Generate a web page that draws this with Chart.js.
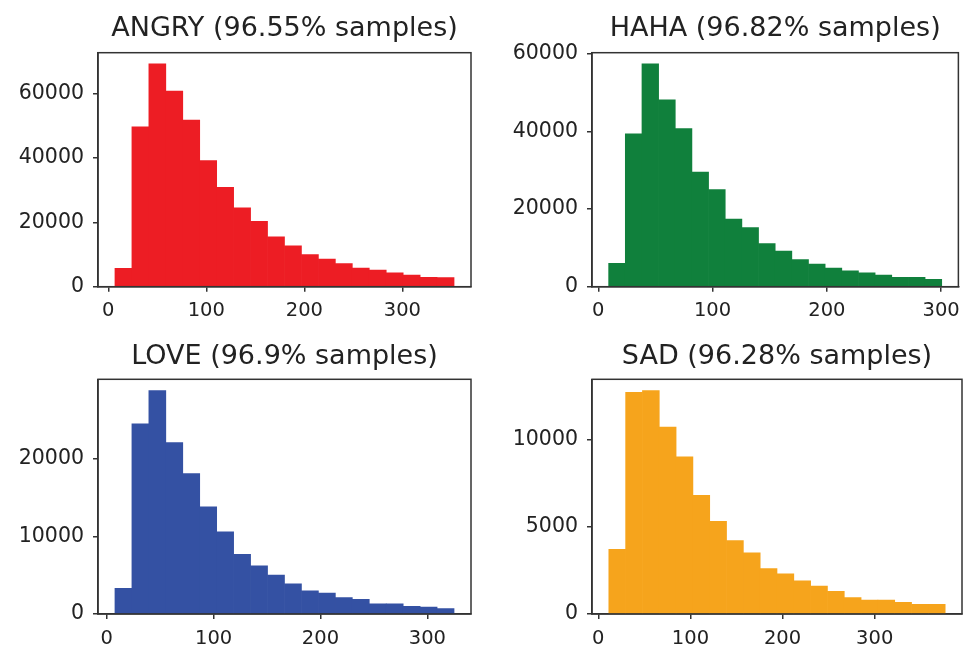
<!DOCTYPE html>
<html>
<head>
<meta charset="utf-8">
<title>Reaction histograms</title>
<script src="https://cdn.jsdelivr.net/npm/chart.js@4.4.1/dist/chart.umd.min.js"></script>
<style>
  html, body { margin: 0; padding: 0; background: #fff; }
  #wrap { position: relative; width: 968px; height: 648px; }
  .panel { position: absolute; width: 484px; height: 324px; }
</style>
</head>
<body>
<div id="wrap">
  <div class="panel" style="left:0;top:0"><canvas id="angryChart" width="484" height="324"></canvas></div>
  <div class="panel" style="left:484px;top:0"><canvas id="hahaChart" width="484" height="324"></canvas></div>
  <div class="panel" style="left:0;top:324px"><canvas id="loveChart" width="484" height="324"></canvas></div>
  <div class="panel" style="left:484px;top:324px"><canvas id="sadChart" width="484" height="324"></canvas></div>
</div>
<script>
// counts per bin (20 bins each)
const angryCounts = [5700, 49700, 69300, 60800, 51800, 39200, 30900, 24500, 20300, 15500, 12700, 10000, 8600, 7200, 5800, 5200, 4300, 3600, 2900, 2800];
const hahaCounts = [6000, 39400, 57400, 48100, 40700, 29500, 25000, 17400, 15200, 11100, 9200, 7000, 5800, 4800, 4100, 3600, 3000, 2400, 2400, 1900];
const loveCounts = [3300, 24500, 28800, 22100, 18100, 13800, 10600, 7700, 6200, 5000, 3900, 3000, 2700, 2100, 1900, 1300, 1300, 1000, 900, 700];
const sadCounts = [3700, 12700, 12800, 10700, 9000, 6800, 5300, 4200, 3500, 2600, 2300, 1900, 1600, 1300, 940, 800, 800, 670, 560, 560];

// data range covered by the bins [first edge, last edge]
const angryRange = [6.8, 352.7];
const hahaRange = [9.1, 300.5];
const loveRange = [7.7, 325];
const sadRange = [11.4, 376.5];

const titles = ['ANGRY (96.55% samples)', 'HAHA (96.82% samples)', 'LOVE (96.9% samples)', 'SAD (96.28% samples)'];

const xTicks = [0, 100, 200, 300];
const angryYTicks = [0, 20000, 40000, 60000];
const hahaYTicks = [0, 20000, 40000, 60000];
const loveYTicks = [0, 10000, 20000];
const sadYTicks = [0, 5000, 10000];

const FONT = '"DejaVu Sans", "Liberation Sans", sans-serif';
const AXIS = '#333';

// matplotlib-like closed frame plus the subplot title
const framePlugin = {
  id: 'frame',
  afterDraw(chart, args, opts) {
    const { ctx, chartArea } = chart;
    ctx.save();
    ctx.strokeStyle = AXIS;
    ctx.lineWidth = 1.5;
    ctx.strokeRect(chartArea.left, chartArea.top, chartArea.right - chartArea.left, chartArea.bottom - chartArea.top);
    ctx.fillStyle = '#222';
    ctx.font = '27px ' + FONT;
    ctx.textAlign = 'center';
    ctx.textBaseline = 'middle';
    ctx.fillText(opts.text, (chartArea.left + chartArea.right) / 2, opts.y);
    ctx.restore();
  }
};

const makeHist = (canvasId, title, color, counts, range, yTicks, box) => {
  const binW = (range[1] - range[0]) / counts.length;
  const pad = (range[1] - range[0]) * 0.05;
  const points = counts.map((c, i) => ({ x: range[0] + (i + 0.5) * binW, y: c }));
  const ctx = document.getElementById(canvasId).getContext('2d');

  return new Chart(ctx, {
    type: 'bar',
    data: {
      datasets: [{
        data: points,
        backgroundColor: color,
        borderWidth: 0,
        barPercentage: 1,
        categoryPercentage: 1,
      }],
    },
    options: {
      responsive: false,
      animation: false,
      layout: { padding: { top: box.top, right: box.right, left: 0, bottom: 0 } },
      plugins: {
        legend: { display: false },
        tooltip: { enabled: false },
        frame: { text: title, y: box.titleY },
      },
      scales: {
        x: {
          type: 'linear',
          offset: false,
          min: range[0] - pad,
          max: range[1] + pad,
          grid: { offset: false, drawOnChartArea: false, drawTicks: true, tickLength: 5, color: AXIS, lineWidth: 1.5 },
          border: { color: AXIS, width: 1.5 },
          ticks: { font: { family: FONT, size: 19.5 }, color: '#222', padding: 8, maxRotation: 0, autoSkip: false, callback: (v) => String(v) },
          afterBuildTicks: (s) => { s.ticks = xTicks.map(v => ({ value: v })); },
          afterFit: (s) => { s.height = box.bottom; },
        },
        y: {
          min: 0,
          max: Math.max(...counts) * 1.05,
          grid: { drawOnChartArea: false, drawTicks: true, tickLength: 5, color: AXIS, lineWidth: 1.5 },
          border: { color: AXIS, width: 1.5 },
          ticks: { font: { family: FONT, size: 20.5 }, color: '#222', padding: 9, callback: (v) => String(v) },
          afterBuildTicks: (s) => { s.ticks = yTicks.map(v => ({ value: v })); },
          afterFit: (s) => { s.width = box.left; },
        },
      },
    },
    plugins: [framePlugin],
  });
};

makeHist('angryChart', titles[0], 'rgb(237, 29, 36)', angryCounts, angryRange, angryYTicks,
  { left: 98, right: 13, top: 52.7, bottom: 37.3, titleY: 29 });
makeHist('hahaChart', titles[1], 'rgb(16, 128, 60)', hahaCounts, hahaRange, hahaYTicks,
  { left: 108, right: 5, top: 52.7, bottom: 37.3, titleY: 29 });
makeHist('loveChart', titles[2], 'rgb(52, 81, 163)', loveCounts, loveRange, loveYTicks,
  { left: 98, right: 13, top: 55.3, bottom: 34, titleY: 33 });
makeHist('sadChart', titles[3], 'rgb(246, 164, 28)', sadCounts, sadRange, sadYTicks,
  { left: 108, right: 6, top: 55.3, bottom: 34, titleY: 33 });
</script>
</body>
</html>
